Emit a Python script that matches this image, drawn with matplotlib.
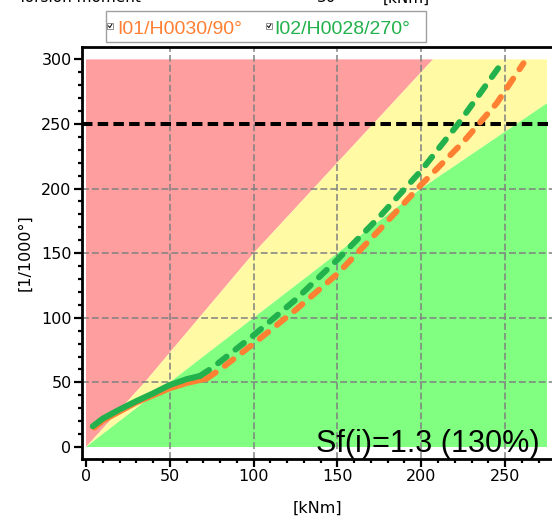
import matplotlib
matplotlib.use('Agg')
import matplotlib.pyplot as plt
from matplotlib.patches import Rectangle
from matplotlib.lines import Line2D

# ── Data ───────────────────────────────────────────────────────────────────
# zone boundaries (x in kNm, y in 1/1000°)
red_bound_x = [0, 35, 100, 207]
red_bound_y = [0, 50, 150, 300]
green_bound_x = [0, 100, 200, 275]
green_bound_y = [0, 100, 200, 266]
x_end = 275
y_top = 300

# I01/H0030/90° (orange)
i01_solid_x = [5, 10, 20, 30, 40, 50, 60, 72]
i01_solid_y = [15, 20.5, 27.5, 34.5, 40, 45.5, 49.5, 53]
i01_dash_x = [72, 80, 100, 125, 150, 175, 200, 225, 245, 261]
i01_dash_y = [53, 60, 80, 106, 134, 168, 203, 236, 266, 297]

# I02/H0028/270° (green)
i02_solid_x = [4, 10, 20, 30, 40, 50, 60, 68]
i02_solid_y = [16, 22, 29, 35.5, 41.5, 48, 52.5, 55]
i02_dash_x = [68, 75, 80, 100, 125, 150, 175, 200, 222, 248]
i02_dash_y = [55, 61, 66, 86.5, 114, 145, 178, 214, 250, 297]

limit_y = 250
labels = ['I01/H0030/90°', 'I02/H0028/270°']
xticks = [0, 50, 100, 150, 200, 250]
yticks = [0, 50, 100, 150, 200, 250, 300]
grid_x = [50, 100, 150, 200, 250]
grid_y = [50, 100, 150, 200]

c_orange = '#ff8033'
c_green = '#22b14c'

# ── Figure ─────────────────────────────────────────────────────────────────
fig = plt.figure(figsize=(5.52, 5.16), dpi=100)
ax = fig.add_axes([82/552, 1 - 459/516, 470/552, (459 - 46.7)/516])

# zones
ax.fill(red_bound_x + [0], red_bound_y + [y_top], color='#ff9e9e', lw=0, zorder=0)
ax.fill(red_bound_x + [x_end] + green_bound_x[::-1],
        red_bound_y + [y_top] + green_bound_y[::-1],
        color='#fffaa3', lw=0, zorder=0)
ax.fill(green_bound_x + [x_end], green_bound_y + [0], color='#80ff80', lw=0, zorder=0)

# grid only on interior ticks
for gx in grid_x:
    ax.axvline(gx, color='#808080', lw=1.1, dashes=(4.5, 2), zorder=1)
for gy in grid_y:
    ax.axhline(gy, color='#808080', lw=1.1, dashes=(4.5, 2), zorder=1)

ax.axhline(limit_y, color='black', lw=2.9, dashes=(2.6, 1.3), zorder=2)

# curves
ax.plot(i01_solid_x, i01_solid_y, color=c_orange, lw=4.3,
        solid_capstyle='round', zorder=3)
ax.plot(i01_dash_x, i01_dash_y, color=c_orange, lw=4.3, dashes=(1.8, 1.9),
        dash_capstyle='round', zorder=3)
ax.plot(i02_solid_x, i02_solid_y, color=c_green, lw=4.3,
        solid_capstyle='round', zorder=4)
ax.plot(i02_dash_x, i02_dash_y, color=c_green, lw=4.3, dashes=(1.8, 1.9),
        dash_capstyle='round', zorder=4)

ax.set_xlim(-2.4, 278)
ax.set_ylim(-9.3, 309.8)
ax.set_xticks(xticks)
ax.set_yticks(yticks)
ax.set_xticks(range(0, 280, 10), minor=True)
ax.set_yticks(range(0, 310, 10), minor=True)
ax.tick_params(axis='both', which='major', labelsize=11.5, width=1.6, length=6, pad=1.5,
               direction='out')
ax.tick_params(axis='both', which='minor', width=1.6, length=2.8, direction='out')
for side in ['left', 'bottom', 'top']:
    ax.spines[side].set_linewidth(2)
ax.spines['right'].set_visible(False)
ax.tick_params(top=False, right=False, which='both')

ax.set_xlabel('[kNm]', fontsize=11.5, labelpad=12)
ax.set_ylabel('[1/1000°]', fontsize=11.5, labelpad=6)

fig.text(540/552, 1 - 451.7/516, 'Sf(i)=1.3 (130%)', fontsize=22,
         family='Liberation Sans', ha='right', va='baseline')

# legend box with check boxes and coloured labels
fig.patches.append(Rectangle((105.7/552, 1 - 41.7/516), 320.3/552, 31/516,
                             transform=fig.transFigure, facecolor='white',
                             edgecolor='#a0a0a0', lw=1))
for lab, col, xp, bx in [(labels[0], c_orange, 117, 107), (labels[1], c_green, 274, 266)]:
    fig.patches.append(Rectangle((bx/552, 1 - 29/516), 6/552, 6/516,
                                 transform=fig.transFigure, facecolor='white',
                                 edgecolor='#909090', lw=0.7))
    fig.lines.append(Line2D([(bx + 1.5)/552, (bx + 2.8)/552, (bx + 4.8)/552],
                            [1 - 26/516, 1 - 27.6/516, 1 - 24.4/516],
                            transform=fig.transFigure, color='black', lw=0.7))
    fig.text(xp/552, 1 - 34.3/516, lab, color=col, fontsize=14,
             family='Liberation Sans', va='baseline')

# cut-off header line above the chart
fig.text(18/552, 1 - 2.5/516, 'Torsion moment', fontsize=11, va='baseline')
fig.text(317/552, 1 - 2.5/516, '30', fontsize=11, va='baseline')
fig.text(383/552, 1 - 2.5/516, '[kNm]', fontsize=11, va='baseline')

fig.savefig('out.png', dpi=100)
